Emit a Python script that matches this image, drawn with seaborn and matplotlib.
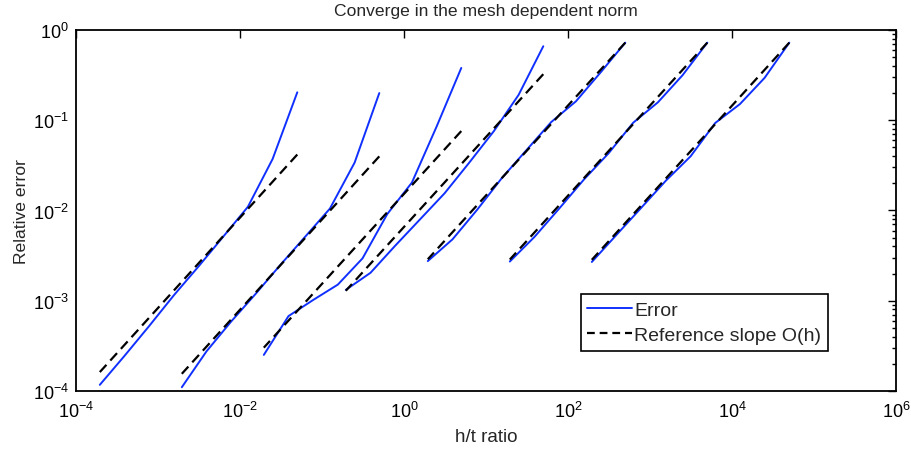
import matplotlib
matplotlib.use("Agg")
import matplotlib.pyplot as plt
import matplotlib.ticker as mticker
import seaborn as sns
import pandas as pd

# ---------------------------------------------------
# Data
# ---------------------------------------------------

# mesh sizes, coarse to fine
h = [0.5, 0.25, 0.125, 0.0625, 0.03125, 0.015625,
     0.0078125, 0.00390625, 0.001953125]

# plate thickness for each sweep
t = [10, 1, 0.1, 0.01, 1e-3, 1e-4, 1e-5]

err_t1 = [0.204, 0.0372, 0.0110, 0.00513, 0.00240, 0.00115, 0.000525, 0.000245, 0.000117]
err_t2 = [0.200, 0.0339, 0.0105, 0.00513, 0.00251, 0.00120, 0.000589, 0.000275, 0.000110]
err_t3 = [0.380, 0.0851, 0.0204, 0.00912, 0.00295, 0.00151, 0.00102, 0.000676, 0.000251]
err_t4 = [0.661, 0.191, 0.0759, 0.0339, 0.0155, 0.00794, 0.00407, 0.00204, 0.00132]
err_t5 = [0.724, 0.339, 0.162, 0.0955, 0.0468, 0.0229, 0.0102, 0.00479, 0.00275]
err_t6 = [0.724, 0.316, 0.158, 0.0940, 0.0430, 0.0220, 0.0105, 0.00510, 0.00272]
err_t7 = [0.724, 0.295, 0.151, 0.0933, 0.0398, 0.0214, 0.0107, 0.00537, 0.00269]

# reference O(h) line, value at coarsest and finest mesh
ref_t1 = [0.0417, 1.62e-4]
ref_t2 = [0.0398, 1.55e-4]
ref_t3 = [0.0759, 3.02e-4]
ref_t4 = [0.324, 1.29e-3]
ref_t5 = [0.724, 2.88e-3]
ref_t6 = [0.724, 2.86e-3]
ref_t7 = [0.724, 2.84e-3]

errors = [err_t1, err_t2, err_t3, err_t4, err_t5, err_t6, err_t7]
refs = [ref_t1, ref_t2, ref_t3, ref_t4, ref_t5, ref_t6, ref_t7]

# ---------------------------------------------------
# Long tables for seaborn
# ---------------------------------------------------

err_rows = []
ref_rows = []
for i, thick in enumerate(t):
    for hh, e in zip(h, errors[i]):
        err_rows.append({"sweep": i, "ratio": hh / thick, "value": e})
    for hh, r in zip([h[0], h[-1]], refs[i]):
        ref_rows.append({"sweep": i, "ratio": hh / thick, "value": r})

df_err = pd.DataFrame(err_rows)
df_ref = pd.DataFrame(ref_rows)

# ---------------------------------------------------
# Theme
# ---------------------------------------------------

sns.set_theme(style="white")
plt.rcParams["font.family"] = ["Liberation Sans", "DejaVu Sans"]
plt.rcParams["mathtext.fontset"] = "custom"
plt.rcParams["mathtext.rm"] = "Liberation Sans"
plt.rcParams["mathtext.it"] = "Liberation Sans"
plt.rcParams["mathtext.bf"] = "Liberation Sans"

BLUE = "#1030ff"
DASH = (0, (4.5, 2.6))

fig = plt.figure(figsize=(9.11, 4.56), dpi=100)
ax = fig.add_axes([0.0834, 0.1404, 0.9001, 0.7916])

sns.lineplot(
    data=df_err, x="ratio", y="value", units="sweep", estimator=None,
    sort=False, color=BLUE, linewidth=1.4, ax=ax, label="Error"
)
sns.lineplot(
    data=df_ref, x="ratio", y="value", units="sweep", estimator=None,
    sort=False, color="black", linewidth=1.6, dashes=False, ax=ax,
    label="Reference slope O(h)"
)
for line in ax.lines[len(t):]:
    line.set_linestyle(DASH)

ax.set_xscale("log")
ax.set_yscale("log")
ax.set_xlim(1e-4, 1e6)
ax.set_ylim(1e-4, 1)

ax.xaxis.set_major_locator(mticker.FixedLocator([1e-4, 1e-2, 1, 1e2, 1e4, 1e6]))
ax.xaxis.set_minor_locator(mticker.NullLocator())
ax.yaxis.set_major_locator(mticker.LogLocator(base=10, numticks=10))
ax.yaxis.set_minor_locator(mticker.LogLocator(base=10, subs=range(2, 10), numticks=10))

ax.tick_params(which="both", direction="in", top=True, right=True,
               colors="black", labelsize=13)
ax.tick_params(which="major", length=6, width=1)
ax.tick_params(which="minor", length=3, width=1)
ax.tick_params(axis="x", pad=7)
ax.tick_params(axis="y", pad=5)
for s in ax.spines.values():
    s.set_color("black")
    s.set_linewidth(1.3)

ax.set_title("Converge in the mesh dependent norm", fontsize=12.6, pad=11)
ax.set_xlabel("h/t ratio", fontsize=13.5, labelpad=5)
ax.set_ylabel("Relative error", fontsize=12.6, labelpad=3)

handles, labels = ax.get_legend_handles_labels()
leg = ax.legend(
    handles[:1] + handles[-1:], labels[:1] + labels[-1:],
    loc="lower right", bbox_to_anchor=(0.917, 0.111), borderaxespad=0,
    fontsize=14, fancybox=False, framealpha=1, edgecolor="black",
    handlelength=2.3, handletextpad=0.1, borderpad=0.35, labelspacing=0.4
)
leg.get_frame().set_linewidth(1.2)
leg.legend_handles[1].set_linestyle((0, (3.5, 2.2)))

fig.savefig("out.png", dpi=100)
